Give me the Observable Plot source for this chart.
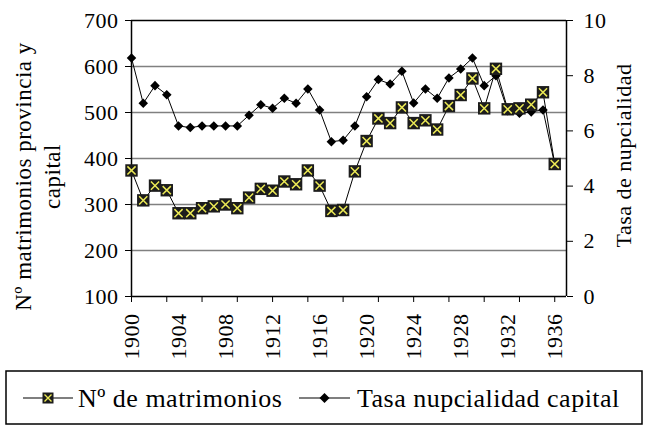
<!DOCTYPE html>
<html><head><meta charset="utf-8">
<script src="https://cdn.jsdelivr.net/npm/d3@7"></script>
<script src="https://cdn.jsdelivr.net/npm/@observablehq/plot@0.6"></script>
<style>
body{margin:0;background:#fff;}
#wrap{position:relative;width:645px;height:426px;overflow:hidden;font-family:"Liberation Serif","Times New Roman",Tinos,"DejaVu Serif",serif;}
#wrap svg text{font-family:"Liberation Serif","Times New Roman",Tinos,"DejaVu Serif",serif !important;}
#wrap svg.legend{position:absolute;left:0;top:0;pointer-events:none;}
</style></head><body><div id="wrap"></div>
<script>
const years = [1900,1901,1902,1903,1904,1905,1906,1907,1908,1909,1910,1911,1912,1913,1914,1915,1916,1917,1918,1919,1920,1921,1922,1923,1924,1925,1926,1927,1928,1929,1930,1931,1932,1933,1934,1935,1936];
const matrimonios = [374,309,341,331,281,281,292,296,300,292,315,334,330,350,344,374,341,286,288,372,438,487,477,511,477,483,463,514,538,574,509,595,507,509,517,544,388];
const tasa = [8.64,7.0,7.64,7.31,6.18,6.12,6.18,6.18,6.18,6.18,6.57,6.95,6.82,7.18,7.0,7.52,6.76,5.61,5.66,6.18,7.24,7.86,7.70,8.16,7.01,7.52,7.18,7.92,8.24,8.64,7.64,8.0,6.73,6.64,6.69,6.76,4.78];
const leftTicks = [100,200,300,400,500,600,700];
const gridValues = [200,300,400,500,600];
const rightTicks = [0,2,4,6,8,10];
const xTickYears = [1900,1903,1906,1909,1912,1915,1918,1921,1924,1927,1930,1933,1936];
const xLabelYears = [1900,1904,1908,1912,1916,1920,1924,1928,1932,1936];
const seriesNames = ["Nº de matrimonios","Tasa nupcialidad capital"];
const leftTitle = "Nº matrimonios provincia y\ncapital";
const rightTitle = "Tasa de nupcialidad";

const toLeft = t => 100 + t*60;
const rows = years.map((y,i)=>({year:y, m:matrimonios[i], t:tasa[i]}));

const chart = Plot.plot({
  width:645, height:370, marginLeft:131, marginRight:79, marginTop:20, marginBottom:74,
  style:{fontSize:"22px", background:"white", overflow:"visible"},
  x:{domain:[1900,1937]}, y:{domain:[100,700]},
  marks:[
    Plot.ruleY(gridValues,{stroke:"#808080",strokeWidth:1.5}),
    Plot.ruleY([700],{stroke:"#000",strokeWidth:1.5}),
    Plot.ruleY([100],{stroke:"#000",strokeWidth:1.5}),
    Plot.ruleX([1900],{stroke:"#000",strokeWidth:1.5}),
    Plot.ruleX([1937],{stroke:"#000",strokeWidth:1.5}),
    Plot.axisY({anchor:"left", ticks:leftTicks, tickSize:6, tickPadding:7, label:null}),
    Plot.axisY({anchor:"right", ticks:rightTicks.map(toLeft), tickFormat:d=>String(Math.round((d-100)/60)), tickSize:6, tickPadding:11, label:null}),
    Plot.axisX({ticks:xTickYears, tickFormat:()=>"", tickSize:6, label:null}),
    Plot.axisX({ticks:xLabelYears, tickFormat:d=>String(d), tickSize:0, tickRotate:-90, tickPadding:17, label:null}),
    Plot.line(rows,{x:"year", y:d=>toLeft(d.t), stroke:"#000", strokeWidth:1}),
    Plot.dot(rows,{x:"year", y:d=>toLeft(d.t), symbol:"diamond2", fill:"#000", r:4.3}),
    Plot.line(rows,{x:"year", y:"m", stroke:"#000", strokeWidth:1}),
    Plot.dot(rows,{x:"year", y:"m", symbol:"square", fill:"#1c1c1c", r:7}),
    Plot.dot(rows,{x:"year", y:"m", symbol:"times", stroke:"#ecea55", strokeWidth:1.5, r:3.8}),
    Plot.text([leftTitle],{text:d=>d, frameAnchor:"left", rotate:-90, dx:-95, dy:18, fontSize:23, lineHeight:1.22, textAnchor:"middle", lineAnchor:"middle"}),
    Plot.text([rightTitle],{text:d=>d, frameAnchor:"right", rotate:-90, dx:57, dy:-3, fontSize:22, textAnchor:"middle", lineAnchor:"middle"})
  ]
});
d3.select(chart).selectAll("text").style("letter-spacing","0.5px");
const wrap = document.getElementById("wrap");
wrap.appendChild(chart);

// legend
const lg = d3.select(wrap).append("svg").attr("class","legend").attr("width",645).attr("height",426);
lg.append("rect").attr("x",6).attr("y",371).attr("width",636).attr("height",53).attr("fill","none").attr("stroke","#000").attr("stroke-width",1.5);
const items = [
  {name:seriesNames[0], x0:23, x1:73, tx:78, kind:"sq"},
  {name:seriesNames[1], x0:299, x1:350, tx:357, kind:"dia"}
];
items.forEach(it=>{
  const cy = 398, cx = (it.x0+it.x1)/2;
  lg.append("line").attr("x1",it.x0).attr("x2",it.x1).attr("y1",cy).attr("y2",cy).attr("stroke","#000").attr("stroke-width",1.2);
  if(it.kind==="sq"){
    lg.append("rect").attr("x",cx-5.5).attr("y",cy-5.5).attr("width",11).attr("height",11).attr("fill","#1c1c1c");
    lg.append("path").attr("d",`M${cx-3.5},${cy-3.5}L${cx+3.5},${cy+3.5}M${cx-3.5},${cy+3.5}L${cx+3.5},${cy-3.5}`).attr("stroke","#ecea55").attr("stroke-width",1.4);
  } else {
    lg.append("path").attr("d",`M${cx},${cy-5}L${cx+5},${cy}L${cx},${cy+5}L${cx-5},${cy}Z`).attr("fill","#000");
  }
  lg.append("text").attr("x",it.tx).attr("y",407).attr("font-size",26).style("letter-spacing","0.5px").attr("fill","#000").text(it.name);
});
</script></body></html>
